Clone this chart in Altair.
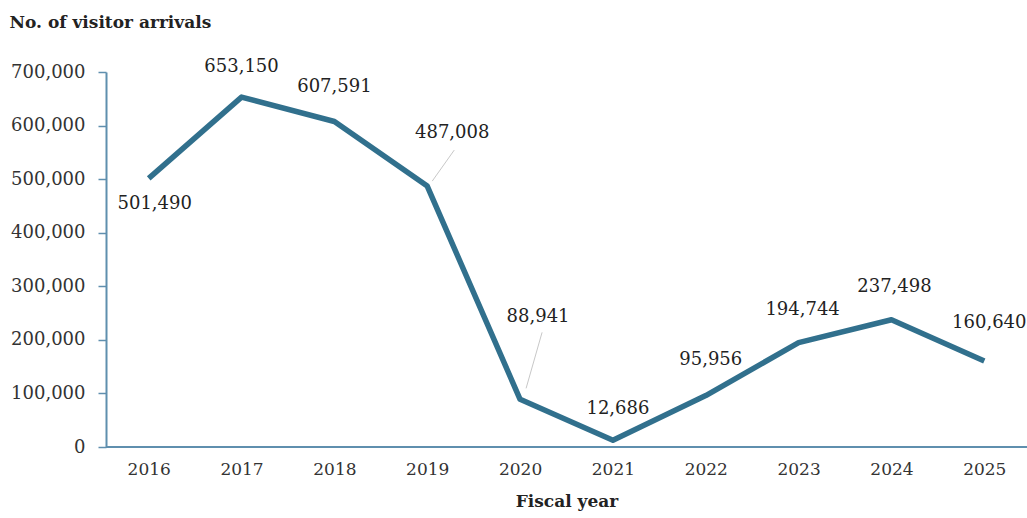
import altair as alt
import pandas as pd

years = ["2016", "2017", "2018", "2019", "2020", "2021", "2022", "2023", "2024", "2025"]
arrivals = [501490, 653150, 607591, 487008, 88941, 12686, 95956, 194744, 237498, 160640]
label_dx = [6, 0, 0, 25, 18, 5, 5, 4, 3, 5]
label_dy = [26, -30, -35, -53, -82, -31, -36, -33, -33, -38]

df = pd.DataFrame({
    "year": years,
    "value": arrivals,
    "label": [f"{v:,}" for v in arrivals],
})

FONT = "DejaVu Serif"
LINE = "#31708d"
AXIS = "#5f8fae"
TXT = "#222"

x = alt.X("year:O", scale=alt.Scale(type="point", padding=0.46),
          axis=alt.Axis(title="Fiscal year", labelAngle=0, ticks=False, domain=False,
                        labelPadding=14, labelFontSize=17, labelFont=FONT, labelColor="#333",
                        titleFont=FONT, titleFontSize=17, titleFontWeight="bold",
                        titleColor=TXT, titlePadding=16))
y = alt.Y("value:Q", scale=alt.Scale(domain=[0, 700000], nice=False),
          axis=alt.Axis(title="No. of visitor arrivals", titleAngle=0, titleAlign="left",
                        titleBaseline="middle", titleX=-97, titleY=-50,
                        titleFont=FONT, titleFontSize=17, titleFontWeight="bold", titleColor=TXT,
                        values=[0, 100000, 200000, 300000, 400000, 500000, 600000, 700000],
                        format=",d", grid=False, domainColor=AXIS, domainWidth=2,
                        tickColor=AXIS, tickSize=8, tickWidth=1.5, labelPadding=13,
                        labelFontSize=18, labelFont=FONT, labelColor="#333"))

base = alt.Chart(df)

line = base.mark_line(color=LINE, strokeWidth=5.5, strokeJoin="round").encode(x=x, y=y)

baseline = base.mark_rule(color=AXIS, strokeWidth=2).encode(
    x=alt.value(0), x2=alt.value(921), y=alt.value(375))

label_layers = []
for yr, ddx, ddy in zip(years, label_dx, label_dy):
    label_layers.append(
        base.transform_filter(alt.datum.year == yr).mark_text(
            font=FONT, fontSize=18, color=TXT, baseline="middle", dx=ddx, dy=ddy
        ).encode(x=x, y=y, text="label:N")
    )

lead1 = base.transform_filter(alt.datum.year == "2019").mark_rule(
    color="#c8c8c8", strokeWidth=1, xOffset=5, yOffset=-5, x2Offset=27, y2Offset=-36).encode(
    x=x, y=y, x2=alt.X2("year:O"), y2=alt.Y2("value:Q"))
lead2 = base.transform_filter(alt.datum.year == "2020").mark_rule(
    color="#c8c8c8", strokeWidth=1, xOffset=6, yOffset=-11, x2Offset=22, y2Offset=-67).encode(
    x=x, y=y, x2=alt.X2("year:O"), y2=alt.Y2("value:Q"))

chart = alt.layer(baseline, lead1, lead2, line, *label_layers).properties(
    width=921, height=375,
    background="white",
    autosize=alt.AutoSizeParams(type="none"),
    padding={"left": 106, "top": 72, "right": 0, "bottom": 71},
).configure_view(strokeWidth=0, stroke="transparent")

chart.save("out.html", embed_options={"renderer": "svg", "actions": False})
